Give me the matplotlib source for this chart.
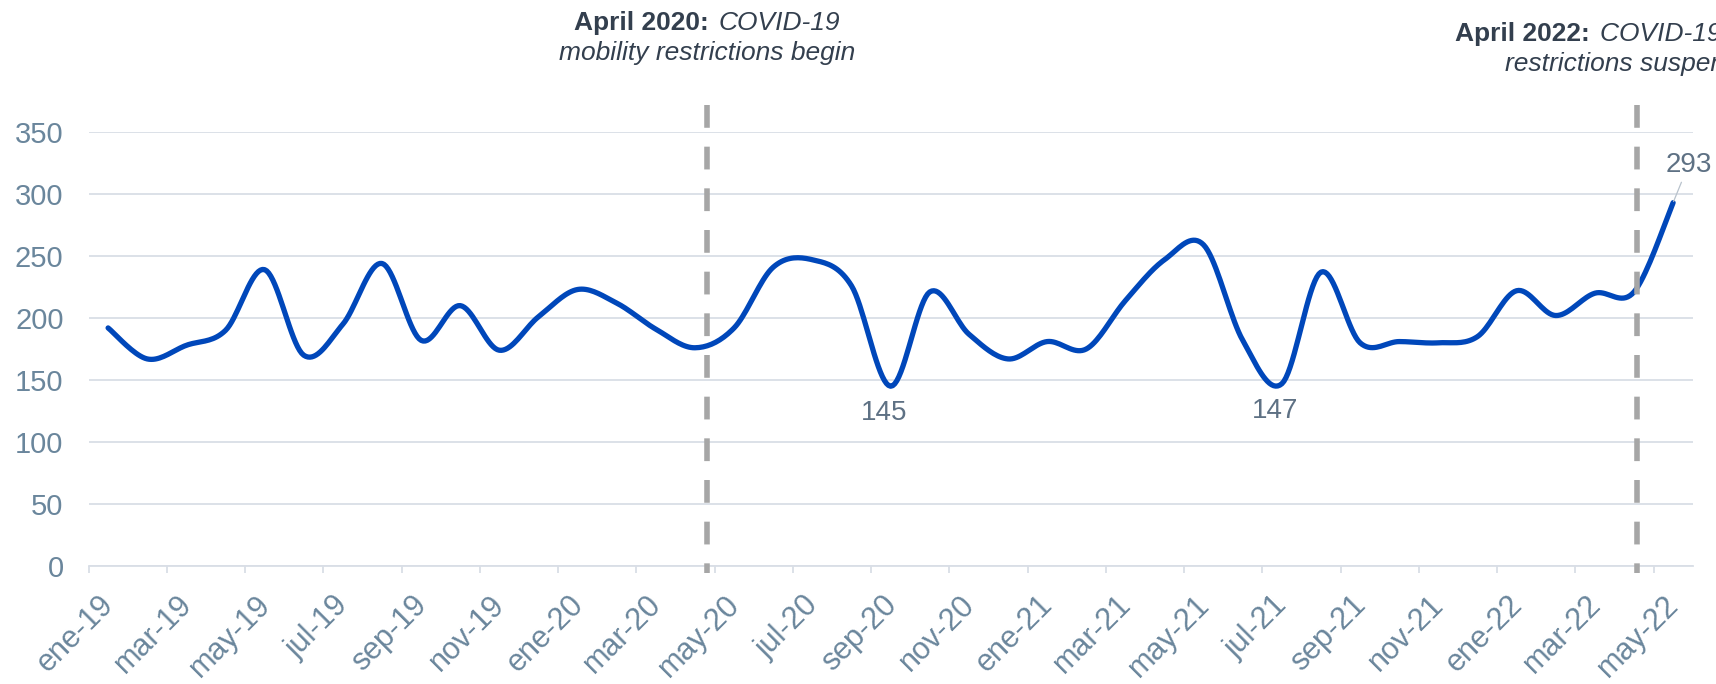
import numpy as np
import matplotlib
matplotlib.use("Agg")
import matplotlib.pyplot as plt
import matplotlib.transforms as mtransforms


MONTHS = ["ene", "feb", "mar", "abr", "may", "jun", "jul", "ago", "sep", "oct", "nov", "dic"]
YEARS = ["19", "20", "21", "22"]
PERIODS = [f"{m}-{y}" for y in YEARS for m in MONTHS][:41]  # ene-19 .. may-22

VALUES = [192, 167, 178, 190, 239, 170, 195, 244, 182, 210, 174, 201,
          223, 212, 191, 176, 192, 241, 247, 226, 145, 221, 187, 167,
          181, 175, 214, 247, 259, 182, 147, 237, 180, 181, 180, 185,
          222, 202, 220, 221, 293]

LABELLED = {20: "145", 30: "147"}
EVENT_X = [15.3, 39.07]  # abr-20, abr-22
EVENT_TEXT = [("April 2020:", "COVID-19", "mobility restrictions begin"),
              ("April 2022:", "COVID-19 mobility", "restrictions suspended")]

LINE_COLOR = "#0047BA"
GRID_COLOR = "#D9DEE6"
TICK_COLOR = "#6A869C"
LABEL_COLOR = "#5E7184"
NOTE_COLOR = "#333F4E"

plt.rcParams["font.family"] = ["Liberation Sans", "DejaVu Sans"]


def smooth(y, n=20):
    # excel-like smoothed line (catmull-rom bezier)
    y = np.asarray(y, dtype=float)
    x = np.arange(len(y), dtype=float)
    p = np.column_stack([x, y])
    p = np.vstack([p[0], p, p[-1]])
    out = []
    t = np.linspace(0, 1, n)[:, None]
    for i in range(1, len(p) - 2):
        p0, p1, p2, p3 = p[i - 1], p[i], p[i + 1], p[i + 2]
        c1 = p1 + (p2 - p0) / 6
        c2 = p2 - (p3 - p1) / 6
        seg = ((1 - t) ** 3) * p1 + 3 * ((1 - t) ** 2) * t * c1 + 3 * (1 - t) * t ** 2 * c2 + t ** 3 * p2
        out.append(seg if i == 1 else seg[1:])
    out = np.vstack(out)
    return out[:, 0], out[:, 1]


def main():
    fig = plt.figure(figsize=(17.16, 6.84), dpi=100)
    ax = fig.add_axes([0.0516, 0.1725, 0.9348, 0.6345])

    xs, ys = smooth(VALUES)
    ax.plot(xs, ys, color=LINE_COLOR, lw=3.8, solid_capstyle="round", zorder=3)

    ax.set_xlim(-0.5, len(VALUES) - 0.5)
    ax.set_ylim(0, 350)
    ax.set_yticks(range(0, 351, 50))
    ax.grid(axis="y", color=GRID_COLOR, lw=1.3)
    ax.set_axisbelow(True)
    for side in ["top", "right", "left"]:
        ax.spines[side].set_visible(False)
    ax.spines["bottom"].set_color(GRID_COLOR)
    ax.spines["bottom"].set_linewidth(1.3)

    ax.tick_params(axis="y", length=0, pad=18, labelsize=21, labelcolor=TICK_COLOR)

    idx = list(range(0, len(PERIODS), 2))
    ax.set_xticks(idx)
    ax.set_xticklabels([PERIODS[i] for i in idx], rotation=45, ha="right", va="top",
                       fontsize=22, color=TICK_COLOR)
    ax.tick_params(axis="x", which="major", length=0, pad=17)
    shift = mtransforms.ScaledTranslation(12 / 100, 0, fig.dpi_scale_trans)
    for lab in ax.get_xticklabels():
        lab.set_transform(lab.get_transform() + shift)
    ax.set_xticks([i - 0.5 for i in range(0, len(PERIODS) + 1, 2)], minor=True)
    ax.tick_params(axis="x", which="minor", length=5, width=1.3, color=GRID_COLOR)

    for ex in EVENT_X:
        ax.plot([ex, ex], [372, -6], color="#A6A6A6", lw=4, dashes=(4.1, 3.4),
                dash_capstyle="butt", clip_on=False, zorder=4)

    for i, txt in LABELLED.items():
        ax.annotate(txt, (i, VALUES[i]), xytext=(-5, -19.5), textcoords="offset points",
                    ha="center", va="center", fontsize=20, color=LABEL_COLOR)

    last = len(VALUES) - 1
    ax.annotate(str(VALUES[last]), (last, VALUES[last]), xytext=(11, 27),
                textcoords="offset points", ha="center", va="center", fontsize=20,
                color=LABEL_COLOR, annotation_clip=False,
                arrowprops=dict(arrowstyle="-", color="#B8C2CC", lw=0.9, shrinkA=1, shrinkB=1))

    # event notes, centred on the dashed lines
    fig.canvas.draw()
    r = fig.canvas.get_renderer()
    W = fig.bbox.width
    H = fig.bbox.height
    baselines = [(30, 60), (40.5, 71.5)]
    for ex, (bold, ital, line2), (b1, b2) in zip(EVENT_X, EVENT_TEXT, baselines):
        cx = ax.transData.transform((ex, 0))[0]
        t1 = fig.text(0, 1 - b1 / H, bold, fontsize=19, fontweight="bold",
                      color=NOTE_COLOR, va="baseline", ha="left")
        t2 = fig.text(0, 1 - b1 / H, ital, fontsize=19, style="italic",
                      color=NOTE_COLOR, va="baseline", ha="left")
        gap = 10
        w1 = t1.get_window_extent(r).width
        w2 = t2.get_window_extent(r).width
        x0 = cx - (w1 + gap + w2) / 2
        t1.set_x(x0 / W)
        t2.set_x((x0 + w1 + gap) / W)
        fig.text(cx / W, 1 - b2 / H, line2, fontsize=19, style="italic",
                 color=NOTE_COLOR, va="baseline", ha="center")

    fig.savefig("out.png", dpi=100)


if __name__ == "__main__":
    main()
